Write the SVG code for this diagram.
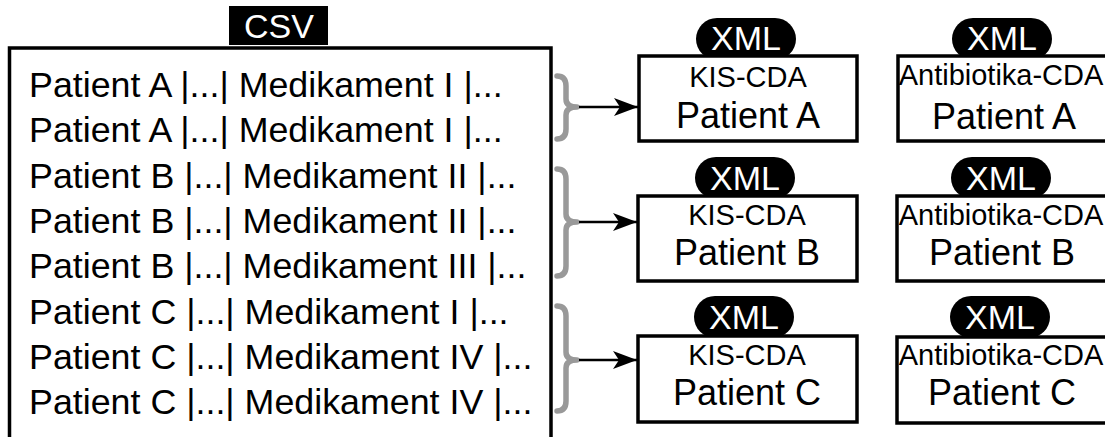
<svg xmlns="http://www.w3.org/2000/svg" width="1105" height="437" viewBox="0 0 1105 437">
  <style>
    text { font-family: "Liberation Sans", Arial, sans-serif; fill: #000; }
    .row { font-size: 35.8px; }
    .tag { fill: #000; }
    .tagtext { fill: #fff; font-size: 34px; text-anchor: middle; }
    .box { fill: #fff; stroke: #000; stroke-width: 3.5; }
    .kind { font-size: 29px; text-anchor: middle; }
    .pat { font-size: 36px; text-anchor: middle; }
    .brace { fill: none; stroke: #999; stroke-width: 5.5; stroke-linejoin: round; stroke-linecap: round; }
    .arrow { stroke: #000; stroke-width: 2.5; fill: none; }
  </style>
  <defs>
    <marker id="head" viewBox="0 0 24 18" refX="24" refY="9" markerWidth="24" markerHeight="18" markerUnits="userSpaceOnUse" orient="auto">
      <path d="M0,0 L24,9 L0,18 L6,9 Z" fill="#000"/>
    </marker>
  </defs>

  <rect width="1105" height="437" fill="#fff"/>

  <!-- CSV source table -->
  <g id="csv">
    <rect class="tag" x="229" y="6" width="99" height="39"/>
    <text class="tagtext" x="279" y="38">CSV</text>
    <path d="M9.5,460 V48 H551 V460" fill="none" stroke="#000" stroke-width="3.5"/>
    <text class="row" x="29" y="97">Patient A |...| Medikament I |...</text>
    <text class="row" x="29" y="142">Patient A |...| Medikament I |...</text>
    <text class="row" x="29" y="188">Patient B |...| Medikament II |...</text>
    <text class="row" x="29" y="233">Patient B |...| Medikament II |...</text>
    <text class="row" x="29" y="278">Patient B |...| Medikament III |...</text>
    <text class="row" x="29" y="324">Patient C |...| Medikament I |...</text>
    <text class="row" x="29" y="369">Patient C |...| Medikament IV |...</text>
    <text class="row" x="29" y="414">Patient C |...| Medikament IV |...</text>
  </g>

  <!-- grouping braces and arrows -->
  <g id="connectors">
    <path class="brace" d="M557,76 Q566,76 566,86 L566,99 Q566,107 577,107 Q566,107 566,115 L566,129 Q566,139 557,139"/>
    <path class="brace" d="M557,169 Q566,169 566,179 L566,214 Q566,222 577,222 Q566,222 566,230 L566,266 Q566,276 557,276"/>
    <path class="brace" d="M557,306 Q566,306 566,316 L566,352 Q566,360 577,360 Q566,360 566,368 L566,401 Q566,411 557,411"/>
    <line class="arrow" x1="579" y1="107" x2="638" y2="107" marker-end="url(#head)"/>
    <line class="arrow" x1="579" y1="222" x2="637" y2="222" marker-end="url(#head)"/>
    <line class="arrow" x1="579" y1="360" x2="637" y2="360" marker-end="url(#head)"/>
  </g>

  <!-- KIS-CDA documents -->
  <g id="kis-a">
    <rect class="tag" x="696" y="18" width="100" height="42" rx="21"/>
    <text class="tagtext" x="746" y="50">XML</text>
    <rect class="box" x="639" y="56" width="218" height="85"/>
    <text class="kind" x="748" y="87">KIS-CDA</text>
    <text class="pat" x="748" y="128">Patient A</text>
  </g>
  <g id="kis-b">
    <rect class="tag" x="695" y="157" width="100" height="42" rx="21"/>
    <text class="tagtext" x="745" y="190">XML</text>
    <rect class="box" x="638" y="196" width="219" height="85"/>
    <text class="kind" x="747" y="225">KIS-CDA</text>
    <text class="pat" x="747" y="265">Patient B</text>
  </g>
  <g id="kis-c">
    <rect class="tag" x="694" y="296" width="100" height="42" rx="21"/>
    <text class="tagtext" x="744" y="329">XML</text>
    <rect class="box" x="638" y="336" width="219" height="86"/>
    <text class="kind" x="747" y="365">KIS-CDA</text>
    <text class="pat" x="747" y="405">Patient C</text>
  </g>

  <!-- Antibiotika-CDA documents -->
  <g id="abx-a">
    <rect class="tag" x="952" y="18" width="100" height="42" rx="21"/>
    <text class="tagtext" x="1002" y="50">XML</text>
    <rect class="box" x="898" y="56" width="212" height="85"/>
    <text class="kind" x="1001" y="85">Antibiotika-CDA</text>
    <text class="pat" x="1004" y="129">Patient A</text>
  </g>
  <g id="abx-b">
    <rect class="tag" x="951" y="157" width="100" height="42" rx="21"/>
    <text class="tagtext" x="1001" y="190">XML</text>
    <rect class="box" x="897" y="196" width="213" height="85"/>
    <text class="kind" x="1001" y="225">Antibiotika-CDA</text>
    <text class="pat" x="1002" y="265">Patient B</text>
  </g>
  <g id="abx-c">
    <rect class="tag" x="950" y="296" width="100" height="42" rx="21"/>
    <text class="tagtext" x="1000" y="329">XML</text>
    <rect class="box" x="897" y="337" width="213" height="86"/>
    <text class="kind" x="1001" y="365">Antibiotika-CDA</text>
    <text class="pat" x="1002" y="405">Patient C</text>
  </g>
</svg>
